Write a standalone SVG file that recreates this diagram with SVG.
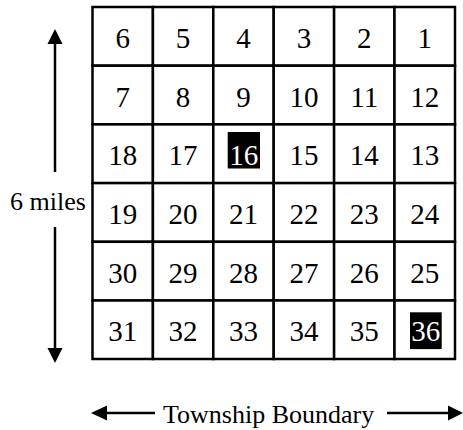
<svg xmlns="http://www.w3.org/2000/svg" width="463" height="430" viewBox="0 0 463 430">
<style>
.c{fill:#fff;stroke:#000;stroke-width:2.5}
.n{font-family:"Liberation Serif","Times New Roman",serif;font-size:29px;text-anchor:middle;fill:#000}
.w{fill:#fff}
.l{font-family:"Liberation Serif","Times New Roman",serif;font-size:26px;fill:#000}
.a{stroke:#000;stroke-width:2.5;fill:none}
.h{fill:#000}
</style>
<rect width="463" height="430" fill="#fff"/>
<g id="grid">
<g id="s6"><rect class="c" x="92.5" y="7" width="60.4" height="58.7"/><text class="n" x="122.7" y="47.8">6</text></g>
<g id="s5"><rect class="c" x="152.9" y="7" width="60.4" height="58.7"/><text class="n" x="183.1" y="47.8">5</text></g>
<g id="s4"><rect class="c" x="213.3" y="7" width="60.4" height="58.7"/><text class="n" x="243.5" y="47.8">4</text></g>
<g id="s3"><rect class="c" x="273.7" y="7" width="60.4" height="58.7"/><text class="n" x="303.9" y="47.8">3</text></g>
<g id="s2"><rect class="c" x="334.1" y="7" width="60.4" height="58.7"/><text class="n" x="364.3" y="47.8">2</text></g>
<g id="s1"><rect class="c" x="394.5" y="7" width="60.5" height="58.7"/><text class="n" x="424.7" y="47.8">1</text></g>

<g id="s7"><rect class="c" x="92.5" y="65.7" width="60.4" height="58.7"/><text class="n" x="122.7" y="106.5">7</text></g>
<g id="s8"><rect class="c" x="152.9" y="65.7" width="60.4" height="58.7"/><text class="n" x="183.1" y="106.5">8</text></g>
<g id="s9"><rect class="c" x="213.3" y="65.7" width="60.4" height="58.7"/><text class="n" x="243.5" y="106.5">9</text></g>
<g id="s10"><rect class="c" x="273.7" y="65.7" width="60.4" height="58.7"/><text class="n" x="303.9" y="106.5">10</text></g>
<g id="s11"><rect class="c" x="334.1" y="65.7" width="60.4" height="58.7"/><text class="n" x="364.3" y="106.5">11</text></g>
<g id="s12"><rect class="c" x="394.5" y="65.7" width="60.5" height="58.7"/><text class="n" x="424.7" y="106.5">12</text></g>

<g id="s18"><rect class="c" x="92.5" y="124.4" width="60.4" height="58.7"/><text class="n" x="122.7" y="165">18</text></g>
<g id="s17"><rect class="c" x="152.9" y="124.4" width="60.4" height="58.7"/><text class="n" x="183.1" y="165">17</text></g>
<g id="s16"><rect class="c" x="213.3" y="124.4" width="60.4" height="58.7"/><rect x="227.7" y="132" width="32.3" height="36.5" fill="#000"/><text class="n w" x="243.8" y="165">16</text></g>
<g id="s15"><rect class="c" x="273.7" y="124.4" width="60.4" height="58.7"/><text class="n" x="303.9" y="165">15</text></g>
<g id="s14"><rect class="c" x="334.1" y="124.4" width="60.4" height="58.7"/><text class="n" x="364.3" y="165">14</text></g>
<g id="s13"><rect class="c" x="394.5" y="124.4" width="60.5" height="58.7"/><text class="n" x="424.7" y="165">13</text></g>

<g id="s19"><rect class="c" x="92.5" y="183.1" width="60.4" height="58.7"/><text class="n" x="122.7" y="223.9">19</text></g>
<g id="s20"><rect class="c" x="152.9" y="183.1" width="60.4" height="58.7"/><text class="n" x="183.1" y="223.9">20</text></g>
<g id="s21"><rect class="c" x="213.3" y="183.1" width="60.4" height="58.7"/><text class="n" x="243.5" y="223.9">21</text></g>
<g id="s22"><rect class="c" x="273.7" y="183.1" width="60.4" height="58.7"/><text class="n" x="303.9" y="223.9">22</text></g>
<g id="s23"><rect class="c" x="334.1" y="183.1" width="60.4" height="58.7"/><text class="n" x="364.3" y="223.9">23</text></g>
<g id="s24"><rect class="c" x="394.5" y="183.1" width="60.5" height="58.7"/><text class="n" x="424.7" y="223.9">24</text></g>

<g id="s30"><rect class="c" x="92.5" y="241.8" width="60.4" height="58.7"/><text class="n" x="122.7" y="282.6">30</text></g>
<g id="s29"><rect class="c" x="152.9" y="241.8" width="60.4" height="58.7"/><text class="n" x="183.1" y="282.6">29</text></g>
<g id="s28"><rect class="c" x="213.3" y="241.8" width="60.4" height="58.7"/><text class="n" x="243.5" y="282.6">28</text></g>
<g id="s27"><rect class="c" x="273.7" y="241.8" width="60.4" height="58.7"/><text class="n" x="303.9" y="282.6">27</text></g>
<g id="s26"><rect class="c" x="334.1" y="241.8" width="60.4" height="58.7"/><text class="n" x="364.3" y="282.6">26</text></g>
<g id="s25"><rect class="c" x="394.5" y="241.8" width="60.5" height="58.7"/><text class="n" x="424.7" y="282.6">25</text></g>

<g id="s31"><rect class="c" x="92.5" y="300.5" width="60.4" height="58.5"/><text class="n" x="122.7" y="341">31</text></g>
<g id="s32"><rect class="c" x="152.9" y="300.5" width="60.4" height="58.5"/><text class="n" x="183.1" y="341">32</text></g>
<g id="s33"><rect class="c" x="213.3" y="300.5" width="60.4" height="58.5"/><text class="n" x="243.5" y="341">33</text></g>
<g id="s34"><rect class="c" x="273.7" y="300.5" width="60.4" height="58.5"/><text class="n" x="303.9" y="341">34</text></g>
<g id="s35"><rect class="c" x="334.1" y="300.5" width="60.4" height="58.5"/><text class="n" x="364.3" y="341">35</text></g>
<g id="s36"><rect class="c" x="394.5" y="300.5" width="60.5" height="58.5"/><rect x="410" y="312.3" width="31.7" height="36.8" fill="#000"/><text class="n w" x="425.8" y="341">36</text></g>
</g>
<g id="labels">
<text class="l" x="10" y="210">6 miles</text>
<text class="l" x="163" y="423">Township Boundary</text>
</g>
<g id="connectors">
<line class="a" x1="55" y1="43" x2="55" y2="172"/>
<line class="a" x1="55" y1="227" x2="55" y2="349"/>
<polygon class="h" points="55,29 47.5,44 62.5,44"/>
<polygon class="h" points="55,363 47.5,348 62.5,348"/>
<line class="a" x1="106" y1="413" x2="155" y2="413"/>
<polygon class="h" points="91,413 107,405.5 107,420.5"/>
<line class="a" x1="387" y1="413" x2="449" y2="413"/>
<polygon class="h" points="463,413 448,405.5 448,420.5"/>
</g>
</svg>
